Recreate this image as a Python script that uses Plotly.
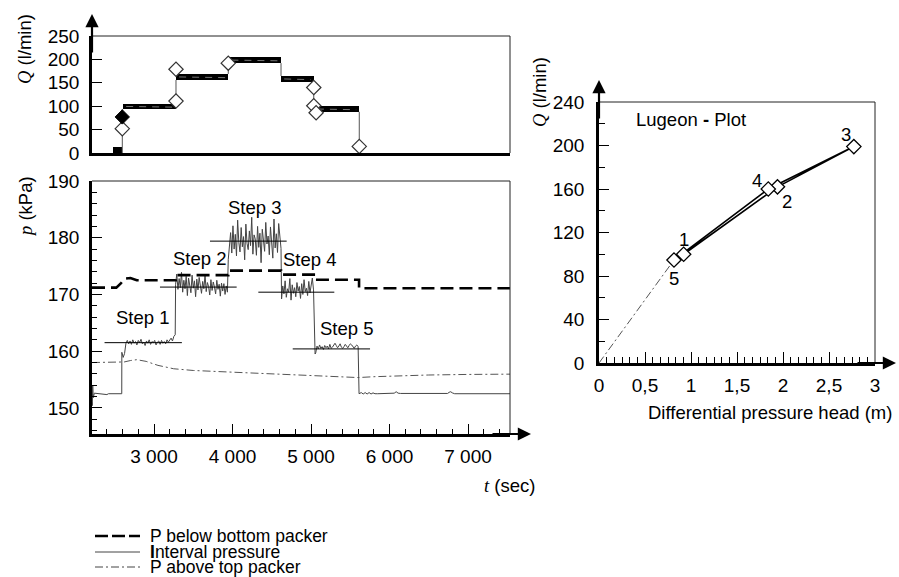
import numpy as np
import plotly.graph_objects as go

W, H = 899, 577
def px(x): return x / W
def py(y): return 1 - y / H

# ---------------- DATA ----------------
# Flow rate Q (l/min) — measured bands per pressure step
q_block_t0 = [2478, 2605, 3280, 3946, 4618, 5035]
q_block_t1 = [2596, 3280, 3946, 4618, 5035, 5615]
q_block_lo = [0, 94, 156, 192, 152, 88]
q_block_hi = [12, 105, 169, 205, 164.5, 100]
q_conn_t = [2596, 3280, 3946, 4618, 5035, 5615]
q_conn_lo = [0, 105, 169, 164.5, 100, 0]
q_conn_hi = [94, 156, 192, 192, 152, 88]
q_open_t = [2596, 3280, 3280, 3946, 5035, 5035, 5065, 5615]
q_open_q = [52, 111, 179, 192, 140, 101, 86, 14]
q_fill_t = [2596]
q_fill_q = [77]

# Interval pressure (kPa)
int_pre_t = [2210, 2214, 2219, 2226, 2240, 2300, 2380, 2400, 2420, 2500, 2589]
int_pre_p = [151.0, 150.4, 154.0, 151.8, 152.6, 152.5, 152.5, 152.35, 152.5, 152.5, 152.5]
s1_p = [159.8, 158.9, 159.6, 161.4, 161.9, 161.3, 161.8, 161.2, 162.0, 161.4, 161.7, 161.1, 161.9, 161.5,
        162.1, 161.3, 161.6, 161.0, 161.8, 161.4, 162.0, 161.2, 161.7, 161.5, 161.9, 161.1, 161.6, 161.8,
        161.2, 161.9, 161.4, 161.7, 161.3, 162.0, 161.6, 161.9, 162.3, 161.8, 162.6, 162.9]
s2_p = [171.8, 173.6, 170.9, 172.8, 171.2, 173.9, 170.4, 172.5, 171.0, 173.2, 169.8, 172.9, 171.5, 170.3,
        173.4, 171.1, 172.4, 169.6, 172.7, 170.8, 173.0, 171.6, 170.2, 172.3, 171.0, 173.5, 170.5, 172.1,
        171.4, 169.9, 172.6, 170.7, 172.2, 171.3, 170.1, 172.5, 170.9, 171.8, 169.7, 172.0, 170.6, 171.9,
        170.0, 171.5, 170.4]
s3_p = [176.2, 178.8, 180.9, 177.3, 182.1, 178.0, 180.6, 176.8, 183.1, 179.2, 177.5, 181.8, 178.4, 180.2,
        176.1, 182.4, 179.0, 177.9, 181.2, 178.6, 183.6, 177.1, 180.5, 179.8, 176.9, 182.0, 178.3, 180.8,
        175.6, 181.5, 179.1, 177.6, 182.7, 178.9, 180.3, 177.0, 181.9, 179.4, 176.4, 183.3, 178.2, 180.7,
        177.4, 182.5, 179.5, 178.1]
s4_p = [169.2, 171.5, 170.1, 172.4, 169.5, 171.0, 170.4, 172.8, 169.0, 171.7, 170.2, 171.2, 169.6, 172.1,
        170.6, 171.4, 169.3, 171.9, 170.0, 172.6, 170.5, 171.1, 169.8, 172.3, 170.3, 171.6, 172.9, 170.8]
s45_t = [5042, 5052]
s45_p = [165.0, 159.5]
s5_p = [159.7, 160.9, 160.4, 161.1, 160.5, 160.8, 160.3, 161.0, 160.6, 160.9, 160.4, 161.2, 160.5, 160.7,
        161.1, 161.4, 161.0, 160.6, 160.9, 161.3, 160.7, 160.5, 160.8, 161.2, 160.9, 160.6, 161.0, 161.3,
        161.1, 160.8, 160.5, 160.9, 161.1, 160.8]
step_noise_t0 = [2590, 3275, 3946, 4625, 5060]
step_noise_t1 = [3270, 3935, 4618, 5032, 5600]
int_post_t = [5605, 5612, 5640, 5665, 5690, 5715, 5740, 5765, 5790, 5815, 5850, 5900, 6000, 6060, 6085,
              6110, 6140, 6300, 6500, 6740, 6760, 6780, 6800, 6830, 7000, 7300, 7535]
int_post_p = [152.9, 152.5, 152.7, 152.45, 152.7, 152.45, 152.7, 152.45, 152.65, 152.5, 152.5, 152.55,
              152.55, 152.6, 152.85, 152.6, 152.55, 152.55, 152.55, 152.55, 152.75, 152.85, 152.65, 152.5,
              152.5, 152.5, 152.5]

# P above top packer (kPa)
top_t = [2210, 2550, 2620, 2700, 2780, 2900, 3050, 3250, 3500, 4000, 4500, 5000, 5300, 5600, 5800, 6000,
         6500, 7000, 7535]
top_p = [158.0, 158.0, 158.1, 158.35, 158.5, 158.2, 157.5, 156.9, 156.6, 156.3, 156.0, 155.7, 155.5,
         155.35, 155.5, 155.6, 155.8, 155.9, 155.95]

# P below bottom packer (kPa)
bot_t = [2210, 2520, 2580, 2630, 2700, 2780, 3276, 3276, 3946, 3946, 4618, 4618, 5035, 5035, 5612, 5612, 7535]
bot_p = [171.2, 171.2, 172.0, 172.8, 172.9, 172.5, 172.5, 173.4, 173.4, 174.2, 174.2, 173.5, 173.5, 172.6,
         172.6, 171.1, 171.1]

# Step mean pressure lines
step_names = ["Step 1", "Step 2", "Step 3", "Step 4", "Step 5"]
step_mean_p = [161.5, 171.3, 179.4, 170.4, 160.4]
step_line_t0 = [2370, 3076, 3713, 4329, 4767]
step_line_t1 = [3355, 4053, 4690, 5297, 5752]

# Lugeon plot
lug_labels = ["1", "2", "3", "4", "5"]
lug_dh = [0.92, 1.94, 2.77, 1.84, 0.815]
lug_q = [100, 162, 199, 160, 94.7]
lug_extrap_dh = [0, 0.815]
lug_extrap_q = [0, 94.7]

# ---------------- FIGURE ----------------
FONT = "Liberation Sans, Arial, sans-serif"
fig = go.Figure()

# Q panel
cx, cy = [], []
for t, lo, hi in zip(q_conn_t, q_conn_lo, q_conn_hi):
    cx += [t, t, None]
    cy += [lo, hi, None]
fig.add_trace(go.Scatter(x=cx, y=cy, mode="lines", line=dict(color="#555", width=1),
                         xaxis="x", yaxis="y", showlegend=False))
fig.add_trace(go.Bar(x=[(a + b) / 2 for a, b in zip(q_block_t0, q_block_t1)],
                     width=[b - a for a, b in zip(q_block_t0, q_block_t1)],
                     base=q_block_lo, y=[h - l for h, l in zip(q_block_hi, q_block_lo)],
                     marker=dict(color="black", line=dict(width=0)), xaxis="x", yaxis="y", showlegend=False))
mx, my = [], []
for a, b, lo, hi in zip(q_block_t0[1:], q_block_t1[1:], q_block_lo[1:], q_block_hi[1:]):
    mx += [a + 40, b - 40, None]
    my += [(lo + hi) / 2, (lo + hi) / 2 - 1.5, None]
fig.add_trace(go.Scatter(x=mx, y=my, mode="lines", line=dict(color="#777", width=1, dash="7px,6px"),
                         xaxis="x", yaxis="y", showlegend=False))
fig.add_trace(go.Scatter(x=q_open_t, y=q_open_q, mode="markers",
                         marker=dict(symbol="diamond", size=11, color="white", line=dict(color="#333", width=1.2)),
                         xaxis="x", yaxis="y", showlegend=False))
fig.add_trace(go.Scatter(x=q_fill_t, y=q_fill_q, mode="markers",
                         marker=dict(symbol="diamond", size=11, color="black", line=dict(color="black", width=1)),
                         xaxis="x", yaxis="y", showlegend=False))

# Pressure panel
int_t = list(int_pre_t)
int_p = list(int_pre_p)
for i, seg in enumerate([s1_p, s2_p, s3_p, s4_p, s5_p]):
    int_t += list(np.linspace(step_noise_t0[i], step_noise_t1[i], len(seg)))
    int_p += seg
    if i == 3:
        int_t += s45_t
        int_p += s45_p
int_t += int_post_t
int_p += int_post_p

fig.add_trace(go.Scatter(x=top_t, y=top_p, mode="lines", line=dict(color="#555", width=1, dash="8px,3px,2px,3px"),
                         xaxis="x2", yaxis="y2", showlegend=False))
fig.add_trace(go.Scatter(x=int_t, y=int_p, mode="lines", line=dict(color="#444", width=1),
                         xaxis="x2", yaxis="y2", showlegend=False))
for i in range(5):
    fig.add_trace(go.Scatter(x=[step_line_t0[i], step_line_t1[i]], y=[step_mean_p[i]] * 2, mode="lines",
                             line=dict(color="black", width=1), xaxis="x2", yaxis="y2", showlegend=False))
fig.add_trace(go.Scatter(x=bot_t, y=bot_p, mode="lines", line=dict(color="black", width=2.6, dash="13px,6px"),
                         xaxis="x2", yaxis="y2", showlegend=False))

# Lugeon panel
fig.add_trace(go.Scatter(x=lug_extrap_dh, y=lug_extrap_q, mode="lines",
                         line=dict(color="#555", width=1, dash="8px,3px,2px,3px"),
                         xaxis="x3", yaxis="y3", showlegend=False))
fig.add_trace(go.Scatter(x=lug_dh, y=lug_q, mode="lines+markers", line=dict(color="black", width=1.6),
                         marker=dict(symbol="diamond", size=11, color="white", line=dict(color="black", width=1.3)),
                         xaxis="x3", yaxis="y3", showlegend=False))

XD = [px(92), px(510)]
tickfont = dict(family=FONT, size=19, color="black")
common = dict(showgrid=False, zeroline=False, showline=True, linecolor="black", tickcolor="black",
              tickfont=tickfont, automargin=False)

fig.update_layout(
    width=W, height=H, margin=dict(l=0, r=0, t=0, b=0, pad=0, autoexpand=False),
    paper_bgcolor="white", plot_bgcolor="white",
    separators=", ", bargap=0, font=dict(family=FONT, size=18, color="black"),
    xaxis=dict(domain=XD, range=[2210, 7535], anchor="y", showticklabels=False, ticks="",
               linewidth=3, **common),
    yaxis=dict(domain=[py(153), py(36)], range=[0, 250], anchor="x", tickmode="linear", tick0=0, dtick=50,
               ticks="inside", ticklen=10, tickwidth=1, linewidth=2.5, ticklabelstandoff=6, **common),
    xaxis2=dict(domain=XD, range=[2210, 7535], anchor="y2", tickmode="linear", tick0=0, dtick=1000,
                tickformat=",d", ticks="inside", ticklen=10, tickwidth=1, linewidth=3,
                minor=dict(ticks="inside", ticklen=5, dtick=200, tick0=0, tickcolor="black", tickwidth=1),
                ticklabelstandoff=3, **common),
    yaxis2=dict(domain=[py(434), py(181)], range=[145.4, 190], anchor="x2", tickmode="linear", tick0=0, dtick=10,
                ticks="inside", ticklen=10, tickwidth=1, linewidth=2.5,
                minor=dict(ticks="inside", ticklen=5, dtick=2, tick0=0, tickcolor="black", tickwidth=1),
                ticklabelstandoff=6, **common),
    xaxis3=dict(domain=[px(599), px(875)], range=[0, 3], anchor="y3", tickmode="linear", tick0=0, dtick=0.5,
                ticks="inside", ticklen=11, tickwidth=1, linewidth=3,
                minor=dict(ticks="inside", ticklen=6, dtick=0.5 / 6, tick0=0, tickcolor="black", tickwidth=1),
                ticklabelstandoff=3, **common),
    yaxis3=dict(domain=[py(363), py(102)], range=[0, 240], anchor="x3", tickmode="linear", tick0=0, dtick=40,
                ticks="inside", ticklen=10, tickwidth=1, linewidth=2.5,
                minor=dict(ticks="inside", ticklen=6, dtick=20, tick0=0, tickcolor="black", tickwidth=1),
                ticklabelstandoff=8, **common),
)

shapes = []
# thin top/right borders
for xa, ya in [("x", "y"), ("x2", "y2"), ("x3", "y3")]:
    shapes.append(dict(type="line", xref=f"{xa} domain", yref=f"{ya} domain", x0=0, x1=1, y0=1, y1=1,
                       line=dict(color="#222", width=1)))
    shapes.append(dict(type="line", xref=f"{xa} domain", yref=f"{ya} domain", x0=1, x1=1, y0=0, y1=1,
                       line=dict(color="#222", width=1)))
# legend samples
leg_y = [536, 552, 567]
shapes.append(dict(type="line", xref="paper", yref="paper", x0=px(95), x1=px(140), y0=py(leg_y[0]), y1=py(leg_y[0]),
                   line=dict(color="black", width=2.6, dash="13px,4px")))
shapes.append(dict(type="line", xref="paper", yref="paper", x0=px(95), x1=px(140), y0=py(leg_y[1]), y1=py(leg_y[1]),
                   line=dict(color="#444", width=1)))
shapes.append(dict(type="line", xref="paper", yref="paper", x0=px(95), x1=px(140), y0=py(leg_y[2]), y1=py(leg_y[2]),
                   line=dict(color="#444", width=1, dash="8px,3px,2px,3px")))
fig.update_layout(shapes=shapes)

ann = []
def arrow(xt, yt, ax, ay):
    ann.append(dict(x=px(xt), y=py(yt), xref="paper", yref="paper", text="", showarrow=True,
                    ax=ax, ay=ay, arrowhead=2, arrowsize=1.2, arrowwidth=2.2, arrowcolor="black"))
arrow(92, 14, 0, 40)
arrow(531, 434, -40, 0)
arrow(599, 80, 0, 40)
arrow(896, 363, -40, 0)

def txt(x, y, s, **kw):
    d = dict(x=px(x), y=py(y), xref="paper", yref="paper", text=s, showarrow=False,
             xanchor="center", yanchor="middle",
             font=dict(family=FONT, size=18.5, color="black"))
    d.update(kw)
    ann.append(d)

SERIF = '<span style="font-family:Liberation Serif">'
txt(25, 49, SERIF + "<i>Q</i></span> (l/min)", textangle=-90)
txt(25, 207, SERIF + "<i>p</i></span> (kPa)", textangle=-90)
txt(537, 485, SERIF + "<i>t</i></span> (sec)", xanchor="right")
txt(540, 92, SERIF + "<i>Q</i></span> (l/min)", textangle=-90)
txt(770, 412, "Differential pressure head (m)")
txt(691, 119, "Lugeon <b>-</b> Plot")

step_lab_pos = [(2860, 166.0), (3586, 176.4), (4287, 185.4), (4987, 176.2), (5459, 164.0)]
for name, (tx, pv) in zip(step_names, step_lab_pos):
    ann.append(dict(x=tx, y=pv, xref="x2", yref="y2", text=name, showarrow=False,
                    font=dict(family=FONT, size=18.5, color="black")))

lug_shift = [(0, 15), (10, -15), (-8, 12), (-11, 9), (0, -18)]
for lab, xv, yv, (sx, sy) in zip(lug_labels, lug_dh, lug_q, lug_shift):
    ann.append(dict(x=xv, y=yv, xref="x3", yref="y3", text=lab, showarrow=False, xshift=sx, yshift=sy,
                    font=dict(family=FONT, size=18.5, color="black")))

leg_text = ["P below bottom packer", "<b>I</b>nterval pressure", "P above top packer"]
for s, yy in zip(leg_text, leg_y):
    txt(148, yy, s, xanchor="left", font=dict(family=FONT, size=17.5, color="black"))

fig.update_layout(annotations=ann)
fig.write_html("out.html")
